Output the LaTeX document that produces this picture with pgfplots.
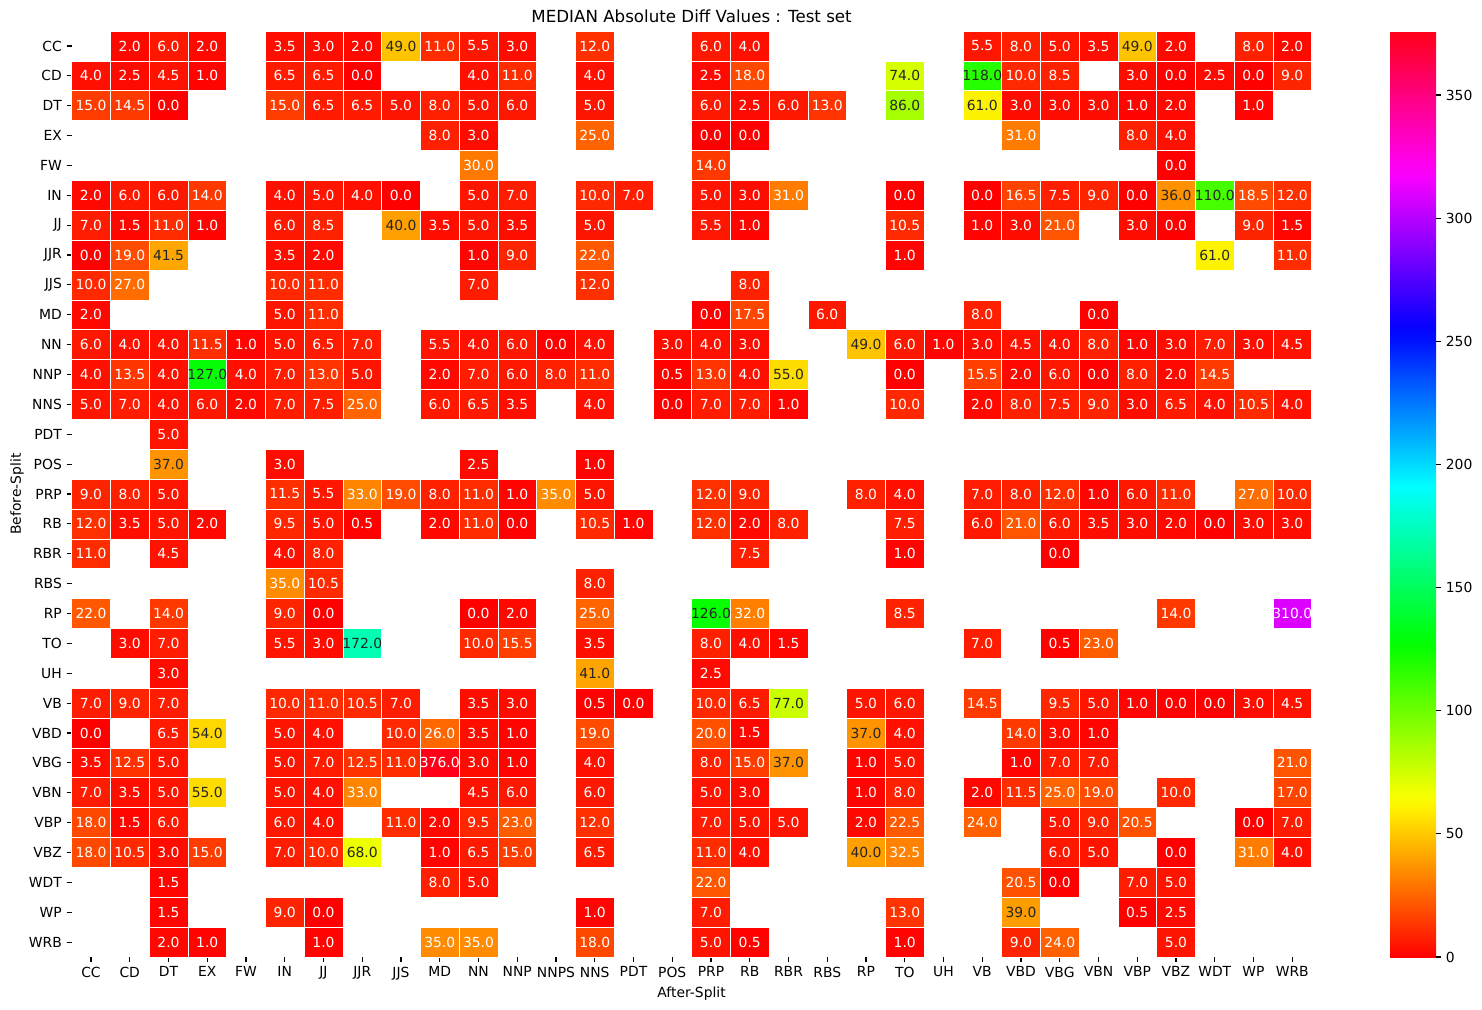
\documentclass[border=0pt]{standalone}
\usepackage{fontspec}
\setmainfont{DejaVu Sans}
\usepackage{pgfplots}
\pgfplotsset{compat=1.18}
\usepackage{pgfplotstable}

\definecolor{darktext}{gray}{0.15}

% matplotlib "hsv" colormap (segment positions in 63rds)
\pgfplotsset{colormap={mplhsv}{rgb(0pt)=(1,0,0); rgb(10pt)=(1,0.9375,0); rgb(11pt)=(0.96875,1,0); rgb(21pt)=(0.03125,1,0); rgb(22pt)=(0,1,0.0625); rgb(32pt)=(0,1,1); rgb(42pt)=(0,0.0625,1); rgb(43pt)=(0.03125,0,1); rgb(53pt)=(0.96875,0,1); rgb(54pt)=(1,0,0.9375); rgb(63pt)=(1,0,0.09375)}}

% x = After-Split index, y = Before-Split index, v = median abs diff
\pgfplotstableread{
x y v
1 0 2.0
2 0 6.0
3 0 2.0
5 0 3.5
6 0 3.0
7 0 2.0
8 0 49.0
9 0 11.0
10 0 5.5
11 0 3.0
13 0 12.0
16 0 6.0
17 0 4.0
23 0 5.5
24 0 8.0
25 0 5.0
26 0 3.5
27 0 49.0
28 0 2.0
30 0 8.0
31 0 2.0
0 1 4.0
1 1 2.5
2 1 4.5
3 1 1.0
5 1 6.5
6 1 6.5
7 1 0.0
10 1 4.0
11 1 11.0
13 1 4.0
16 1 2.5
17 1 18.0
21 1 74.0
23 1 118.0
24 1 10.0
25 1 8.5
27 1 3.0
28 1 0.0
29 1 2.5
30 1 0.0
31 1 9.0
0 2 15.0
1 2 14.5
2 2 0.0
5 2 15.0
6 2 6.5
7 2 6.5
8 2 5.0
9 2 8.0
10 2 5.0
11 2 6.0
13 2 5.0
16 2 6.0
17 2 2.5
18 2 6.0
19 2 13.0
21 2 86.0
23 2 61.0
24 2 3.0
25 2 3.0
26 2 3.0
27 2 1.0
28 2 2.0
30 2 1.0
9 3 8.0
10 3 3.0
13 3 25.0
16 3 0.0
17 3 0.0
24 3 31.0
27 3 8.0
28 3 4.0
10 4 30.0
16 4 14.0
28 4 0.0
0 5 2.0
1 5 6.0
2 5 6.0
3 5 14.0
5 5 4.0
6 5 5.0
7 5 4.0
8 5 0.0
10 5 5.0
11 5 7.0
13 5 10.0
14 5 7.0
16 5 5.0
17 5 3.0
18 5 31.0
21 5 0.0
23 5 0.0
24 5 16.5
25 5 7.5
26 5 9.0
27 5 0.0
28 5 36.0
29 5 110.0
30 5 18.5
31 5 12.0
0 6 7.0
1 6 1.5
2 6 11.0
3 6 1.0
5 6 6.0
6 6 8.5
8 6 40.0
9 6 3.5
10 6 5.0
11 6 3.5
13 6 5.0
16 6 5.5
17 6 1.0
21 6 10.5
23 6 1.0
24 6 3.0
25 6 21.0
27 6 3.0
28 6 0.0
30 6 9.0
31 6 1.5
0 7 0.0
1 7 19.0
2 7 41.5
5 7 3.5
6 7 2.0
10 7 1.0
11 7 9.0
13 7 22.0
21 7 1.0
29 7 61.0
31 7 11.0
0 8 10.0
1 8 27.0
5 8 10.0
6 8 11.0
10 8 7.0
13 8 12.0
17 8 8.0
0 9 2.0
5 9 5.0
6 9 11.0
16 9 0.0
17 9 17.5
19 9 6.0
23 9 8.0
26 9 0.0
0 10 6.0
1 10 4.0
2 10 4.0
3 10 11.5
4 10 1.0
5 10 5.0
6 10 6.5
7 10 7.0
9 10 5.5
10 10 4.0
11 10 6.0
12 10 0.0
13 10 4.0
15 10 3.0
16 10 4.0
17 10 3.0
20 10 49.0
21 10 6.0
22 10 1.0
23 10 3.0
24 10 4.5
25 10 4.0
26 10 8.0
27 10 1.0
28 10 3.0
29 10 7.0
30 10 3.0
31 10 4.5
0 11 4.0
1 11 13.5
2 11 4.0
3 11 127.0
4 11 4.0
5 11 7.0
6 11 13.0
7 11 5.0
9 11 2.0
10 11 7.0
11 11 6.0
12 11 8.0
13 11 11.0
15 11 0.5
16 11 13.0
17 11 4.0
18 11 55.0
21 11 0.0
23 11 15.5
24 11 2.0
25 11 6.0
26 11 0.0
27 11 8.0
28 11 2.0
29 11 14.5
0 12 5.0
1 12 7.0
2 12 4.0
3 12 6.0
4 12 2.0
5 12 7.0
6 12 7.5
7 12 25.0
9 12 6.0
10 12 6.5
11 12 3.5
13 12 4.0
15 12 0.0
16 12 7.0
17 12 7.0
18 12 1.0
21 12 10.0
23 12 2.0
24 12 8.0
25 12 7.5
26 12 9.0
27 12 3.0
28 12 6.5
29 12 4.0
30 12 10.5
31 12 4.0
2 13 5.0
2 14 37.0
5 14 3.0
10 14 2.5
13 14 1.0
0 15 9.0
1 15 8.0
2 15 5.0
5 15 11.5
6 15 5.5
7 15 33.0
8 15 19.0
9 15 8.0
10 15 11.0
11 15 1.0
12 15 35.0
13 15 5.0
16 15 12.0
17 15 9.0
20 15 8.0
21 15 4.0
23 15 7.0
24 15 8.0
25 15 12.0
26 15 1.0
27 15 6.0
28 15 11.0
30 15 27.0
31 15 10.0
0 16 12.0
1 16 3.5
2 16 5.0
3 16 2.0
5 16 9.5
6 16 5.0
7 16 0.5
9 16 2.0
10 16 11.0
11 16 0.0
13 16 10.5
14 16 1.0
16 16 12.0
17 16 2.0
18 16 8.0
21 16 7.5
23 16 6.0
24 16 21.0
25 16 6.0
26 16 3.5
27 16 3.0
28 16 2.0
29 16 0.0
30 16 3.0
31 16 3.0
0 17 11.0
2 17 4.5
5 17 4.0
6 17 8.0
17 17 7.5
21 17 1.0
25 17 0.0
5 18 35.0
6 18 10.5
13 18 8.0
0 19 22.0
2 19 14.0
5 19 9.0
6 19 0.0
10 19 0.0
11 19 2.0
13 19 25.0
16 19 126.0
17 19 32.0
21 19 8.5
28 19 14.0
31 19 310.0
1 20 3.0
2 20 7.0
5 20 5.5
6 20 3.0
7 20 172.0
10 20 10.0
11 20 15.5
13 20 3.5
16 20 8.0
17 20 4.0
18 20 1.5
23 20 7.0
25 20 0.5
26 20 23.0
2 21 3.0
13 21 41.0
16 21 2.5
0 22 7.0
1 22 9.0
2 22 7.0
5 22 10.0
6 22 11.0
7 22 10.5
8 22 7.0
10 22 3.5
11 22 3.0
13 22 0.5
14 22 0.0
16 22 10.0
17 22 6.5
18 22 77.0
20 22 5.0
21 22 6.0
23 22 14.5
25 22 9.5
26 22 5.0
27 22 1.0
28 22 0.0
29 22 0.0
30 22 3.0
31 22 4.5
0 23 0.0
2 23 6.5
3 23 54.0
5 23 5.0
6 23 4.0
8 23 10.0
9 23 26.0
10 23 3.5
11 23 1.0
13 23 19.0
16 23 20.0
17 23 1.5
20 23 37.0
21 23 4.0
24 23 14.0
25 23 3.0
26 23 1.0
0 24 3.5
1 24 12.5
2 24 5.0
5 24 5.0
6 24 7.0
7 24 12.5
8 24 11.0
9 24 376.0
10 24 3.0
11 24 1.0
13 24 4.0
16 24 8.0
17 24 15.0
18 24 37.0
20 24 1.0
21 24 5.0
24 24 1.0
25 24 7.0
26 24 7.0
31 24 21.0
0 25 7.0
1 25 3.5
2 25 5.0
3 25 55.0
5 25 5.0
6 25 4.0
7 25 33.0
10 25 4.5
11 25 6.0
13 25 6.0
16 25 5.0
17 25 3.0
20 25 1.0
21 25 8.0
23 25 2.0
24 25 11.5
25 25 25.0
26 25 19.0
28 25 10.0
31 25 17.0
0 26 18.0
1 26 1.5
2 26 6.0
5 26 6.0
6 26 4.0
8 26 11.0
9 26 2.0
10 26 9.5
11 26 23.0
13 26 12.0
16 26 7.0
17 26 5.0
18 26 5.0
20 26 2.0
21 26 22.5
23 26 24.0
25 26 5.0
26 26 9.0
27 26 20.5
30 26 0.0
31 26 7.0
0 27 18.0
1 27 10.5
2 27 3.0
3 27 15.0
5 27 7.0
6 27 10.0
7 27 68.0
9 27 1.0
10 27 6.5
11 27 15.0
13 27 6.5
16 27 11.0
17 27 4.0
20 27 40.0
21 27 32.5
25 27 6.0
26 27 5.0
28 27 0.0
30 27 31.0
31 27 4.0
2 28 1.5
9 28 8.0
10 28 5.0
16 28 22.0
24 28 20.5
25 28 0.0
27 28 7.0
28 28 5.0
2 29 1.5
5 29 9.0
6 29 0.0
13 29 1.0
16 29 7.0
21 29 13.0
24 29 39.0
27 29 0.5
28 29 2.5
2 30 2.0
3 30 1.0
6 30 1.0
9 30 35.0
10 30 35.0
13 30 18.0
16 30 5.0
17 30 0.5
21 30 1.0
24 30 9.0
25 30 24.0
28 30 5.0
}\heat

\begin{document}
\begin{tikzpicture}
\useasboundingbox (-51.552pt,-37.44pt) rectangle (1015.488pt,689.04pt);
\begin{axis}[
  at={(0pt,0pt)}, anchor=south west,
  scale only axis, width=892.8pt, height=666.72pt,
  xmin=-0.5, xmax=31.5, ymin=-0.5, ymax=30.5, y dir=reverse,
  axis line style={draw=none},
  xtick={0,...,31}, ytick={0,...,30},
  xticklabels={CC,CD,DT,EX,FW,IN,JJ,JJR,JJS,MD,NN,NNP,NNPS,NNS,PDT,POS,PRP,RB,RBR,RBS,RP,TO,UH,VB,VBD,VBG,VBN,VBP,VBZ,WDT,WP,WRB},
  yticklabels={CC,CD,DT,EX,FW,IN,JJ,JJR,JJS,MD,NN,NNP,NNS,PDT,POS,PRP,RB,RBR,RBS,RP,TO,UH,VB,VBD,VBG,VBN,VBP,VBZ,WDT,WP,WRB},
  tick align=outside, xtick pos=bottom, ytick pos=left,
  major tick length=3.5pt, tick style={black, line width=0.8pt},
  ticklabel style={font=\fontsize{10}{12}\selectfont},
  /pgf/number format/assume math mode=true,
  colormap name=mplhsv,
  point meta min=0, point meta max=376,
  colorbar,
  colorbar/width=33.1pt,
  colorbar style={
    at={(parent axis.north east)}, anchor=north west, xshift=48pt,
    ytick={0,50,...,350},
    axis line style={draw=none},
    tick align=outside, major tick length=3.5pt, tick style={black, line width=0.8pt},
    yticklabel style={font=\fontsize{10}{12}\selectfont, /pgf/number format/assume math mode=true},
    ytick pos=right,
  },
  title={MEDIAN Absolute Diff Values : Test set},
  title style={font=\fontsize{12}{14.4}\selectfont, at={(axis description cs:0.5,1)}, anchor=base},
  xlabel={After-Split},
  xlabel style={font=\fontsize{10}{12}\selectfont, at={(axis description cs:0.5,0)}, anchor=north, inner sep=0pt, yshift=-21pt},
  ylabel={Before-Split},
  ylabel style={font=\fontsize{10}{12}\selectfont, at={(axis description cs:-0.04403,0.5)}, anchor=center, inner sep=0pt},
]
% cells
\addplot[scatter, only marks, mark=square*, mark size=10.7535pt,
  point meta=explicit,
  scatter/use mapped color={draw=white, fill=mapped color, line width=0.45pt, xscale=1.2973},
] table[x=x, y=y, meta=v] {\heat};
% labels on dark (red / orange) cells
\addplot[only marks, mark=none, point meta=explicit,
  restrict expr to domain={\thisrow{v}}{-1:35.5},
  nodes near coords,
  every node near coord/.append style={anchor=center, text=white, font=\fontsize{10}{12}\selectfont, /pgf/number format/.cd, fixed, fixed zerofill, precision=1, assume math mode=true},
] table[x=x, y=y, meta=v] {\heat};
% labels on light (yellow / green / cyan) cells
\addplot[only marks, mark=none, point meta=explicit,
  restrict expr to domain={\thisrow{v}}{35.5:220},
  nodes near coords,
  every node near coord/.append style={anchor=center, text=darktext, font=\fontsize{10}{12}\selectfont, /pgf/number format/.cd, fixed, fixed zerofill, precision=1, assume math mode=true},
] table[x=x, y=y, meta=v] {\heat};
% labels on dark (magenta / red) cells at the top of the scale
\addplot[only marks, mark=none, point meta=explicit,
  restrict expr to domain={\thisrow{v}}{220:1000},
  nodes near coords,
  every node near coord/.append style={anchor=center, text=white, font=\fontsize{10}{12}\selectfont, /pgf/number format/.cd, fixed, fixed zerofill, precision=1, assume math mode=true},
] table[x=x, y=y, meta=v] {\heat};
\end{axis}
\end{tikzpicture}
\end{document}
